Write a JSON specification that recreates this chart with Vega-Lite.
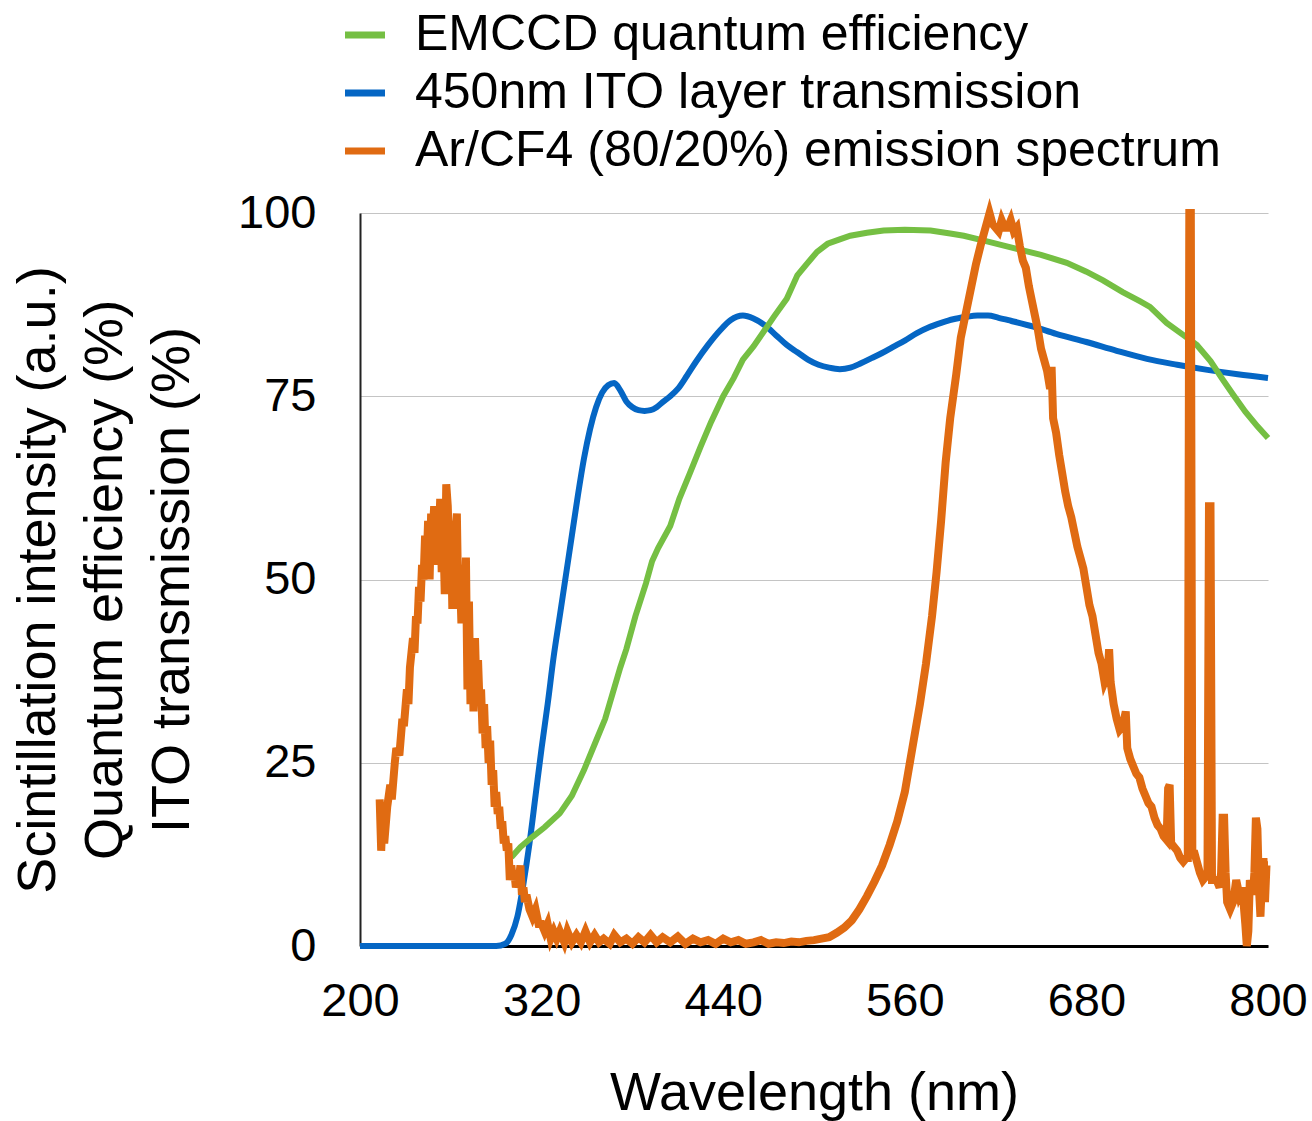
{
  "$schema": "https://vega.github.io/schema/vega-lite/v6.json",
  "width": 908,
  "height": 733,
  "autosize": {"type": "none"},
  "padding": {"left": 360, "top": 213, "right": 44, "bottom": 175},
  "background": "white",
  "config": {
    "font": "Liberation Sans",
    "view": {"stroke": null}
  },
  "datasets": {
    "ito": [
      {"wl":200,"v":0},{"wl":250,"v":0},{"wl":290,"v":0},{"wl":296,"v":0.3},{"wl":300,"v":1.5},{"wl":304,"v":4},{"wl":308,"v":8.5},{"wl":312,"v":14},{"wl":316,"v":20.5},{"wl":320,"v":27},{"wl":324,"v":33},{"wl":328,"v":39.5},{"wl":332,"v":45},{"wl":336,"v":50.5},{"wl":340,"v":56},{"wl":344,"v":61.5},{"wl":348,"v":66.5},{"wl":352,"v":70.5},{"wl":356,"v":73.5},{"wl":360,"v":75.5},{"wl":364,"v":76.5},{"wl":368,"v":76.8},{"wl":372,"v":75.8},{"wl":376,"v":74.3},{"wl":380,"v":73.5},{"wl":384,"v":73.1},{"wl":388,"v":73},{"wl":392,"v":73.1},{"wl":396,"v":73.5},{"wl":400,"v":74.2},{"wl":405,"v":75},{"wl":410,"v":76},{"wl":416,"v":77.8},{"wl":422,"v":79.7},{"wl":430,"v":82},{"wl":438,"v":84},{"wl":445,"v":85.4},{"wl":453,"v":86},{"wl":460,"v":85.6},{"wl":468,"v":84.6},{"wl":475,"v":83.3},{"wl":482,"v":82},{"wl":489,"v":81},{"wl":496,"v":80},{"wl":503,"v":79.3},{"wl":510,"v":78.9},{"wl":517,"v":78.7},{"wl":524,"v":78.9},{"wl":531,"v":79.5},{"wl":538,"v":80.2},{"wl":545,"v":80.9},{"wl":552,"v":81.7},{"wl":560,"v":82.6},{"wl":568,"v":83.6},{"wl":576,"v":84.4},{"wl":584,"v":85},{"wl":592,"v":85.5},{"wl":600,"v":85.8},{"wl":608,"v":86},{"wl":615,"v":86},{"wl":622,"v":85.7},{"wl":630,"v":85.3},{"wl":645,"v":84.5},{"wl":660,"v":83.5},{"wl":680,"v":82.4},{"wl":700,"v":81.2},{"wl":720,"v":80.1},{"wl":740,"v":79.3},{"wl":760,"v":78.6},{"wl":780,"v":78},{"wl":800,"v":77.5}
    ],
    "qe": [
      {"wl":300,"v":12.1},{"wl":306,"v":13.5},{"wl":314,"v":14.9},{"wl":322,"v":16.2},{"wl":332,"v":18.1},{"wl":340,"v":20.5},{"wl":348,"v":24},{"wl":356,"v":28},{"wl":362,"v":31},{"wl":367,"v":34.5},{"wl":372,"v":38},{"wl":376,"v":40.5},{"wl":382,"v":45},{"wl":389,"v":49.5},{"wl":393,"v":52.5},{"wl":397,"v":54.3},{"wl":405,"v":57.3},{"wl":411,"v":61},{"wl":418,"v":64.5},{"wl":425,"v":68.1},{"wl":432,"v":71.5},{"wl":440,"v":75},{"wl":447,"v":77.5},{"wl":453,"v":80},{"wl":460,"v":81.8},{"wl":466,"v":83.6},{"wl":474,"v":86},{"wl":482,"v":88.3},{"wl":489,"v":91.5},{"wl":495,"v":93},{"wl":502,"v":94.7},{"wl":509,"v":95.8},{"wl":517,"v":96.4},{"wl":524,"v":96.9},{"wl":535,"v":97.3},{"wl":546,"v":97.6},{"wl":560,"v":97.7},{"wl":577,"v":97.6},{"wl":590,"v":97.2},{"wl":599,"v":96.9},{"wl":615,"v":96.1},{"wl":634,"v":95.1},{"wl":650,"v":94.3},{"wl":667,"v":93.2},{"wl":680,"v":92},{"wl":691,"v":90.8},{"wl":704,"v":89.2},{"wl":715,"v":88},{"wl":722,"v":87.2},{"wl":733,"v":85},{"wl":743,"v":83.5},{"wl":753,"v":82},{"wl":762,"v":79.8},{"wl":770,"v":77.3},{"wl":777,"v":75.2},{"wl":785,"v":72.9},{"wl":793,"v":70.9},{"wl":800,"v":69.3}
    ],
    "ar": [
      {"wl":213,"v":20},{"wl":214,"v":13},{"wl":215,"v":18},{"wl":216,"v":14},{"wl":218,"v":19},{"wl":220,"v":22},{"wl":221,"v":20},{"wl":223,"v":25},{"wl":224,"v":27},{"wl":226,"v":26},{"wl":228,"v":31},{"wl":229,"v":30},{"wl":231,"v":35},{"wl":232,"v":33},{"wl":233,"v":38},{"wl":235,"v":42},{"wl":236,"v":40},{"wl":237,"v":45},{"wl":238,"v":44},{"wl":239,"v":49},{"wl":240,"v":47},{"wl":241,"v":52},{"wl":242,"v":50},{"wl":243,"v":56},{"wl":244,"v":52},{"wl":245,"v":58},{"wl":246,"v":50},{"wl":247,"v":59},{"wl":248,"v":56},{"wl":249,"v":60},{"wl":250,"v":52},{"wl":251,"v":60},{"wl":252,"v":55},{"wl":253,"v":61},{"wl":254,"v":51},{"wl":255,"v":57},{"wl":256,"v":48},{"wl":257,"v":63},{"wl":258,"v":60},{"wl":259,"v":53},{"wl":260,"v":58},{"wl":261,"v":46},{"wl":262,"v":58},{"wl":263,"v":56},{"wl":264,"v":59},{"wl":265,"v":46},{"wl":266,"v":51},{"wl":267,"v":44},{"wl":268,"v":52},{"wl":269,"v":45},{"wl":270,"v":53},{"wl":271,"v":35},{"wl":272,"v":47},{"wl":273,"v":33},{"wl":274,"v":42},{"wl":275,"v":32},{"wl":276,"v":42},{"wl":277,"v":34},{"wl":278,"v":39},{"wl":279,"v":33},{"wl":280,"v":35},{"wl":281,"v":29},{"wl":282,"v":33},{"wl":283,"v":27},{"wl":284,"v":30},{"wl":285,"v":25},{"wl":286,"v":28},{"wl":287,"v":22},{"wl":288,"v":24},{"wl":289,"v":19},{"wl":290,"v":21},{"wl":291,"v":18},{"wl":292,"v":19},{"wl":293,"v":16},{"wl":294,"v":17},{"wl":295,"v":14},{"wl":296,"v":15},{"wl":297,"v":13},{"wl":298,"v":14},{"wl":299,"v":9},{"wl":300,"v":11},{"wl":301,"v":9},{"wl":302,"v":10},{"wl":303,"v":8},{"wl":304,"v":9},{"wl":305,"v":9},{"wl":306,"v":11},{"wl":307,"v":7},{"wl":308,"v":8},{"wl":309,"v":6},{"wl":310,"v":7},{"wl":312,"v":5},{"wl":314,"v":4},{"wl":316,"v":5},{"wl":318,"v":3},{"wl":320,"v":3},{"wl":322,"v":2},{"wl":324,"v":3},{"wl":326,"v":1},{"wl":328,"v":2},{"wl":330,"v":1},{"wl":332,"v":2},{"wl":335,"v":0.5},{"wl":337,"v":2},{"wl":340,"v":0.5},{"wl":343,"v":1.5},{"wl":346,"v":0.5},{"wl":349,"v":2},{"wl":352,"v":0.5},{"wl":355,"v":1.5},{"wl":358,"v":0.5},{"wl":361,"v":1},{"wl":365,"v":0.3},{"wl":368,"v":1.5},{"wl":372,"v":0.5},{"wl":376,"v":1},{"wl":380,"v":0.3},{"wl":384,"v":1.2},{"wl":388,"v":0.5},{"wl":392,"v":1.5},{"wl":396,"v":0.5},{"wl":400,"v":1.2},{"wl":405,"v":0.5},{"wl":410,"v":1.3},{"wl":415,"v":0.3},{"wl":420,"v":1},{"wl":425,"v":0.5},{"wl":430,"v":0.8},{"wl":435,"v":0.3},{"wl":440,"v":1},{"wl":445,"v":0.5},{"wl":450,"v":0.8},{"wl":455,"v":0.3},{"wl":460,"v":0.5},{"wl":465,"v":0.8},{"wl":470,"v":0.3},{"wl":475,"v":0.5},{"wl":480,"v":0.4},{"wl":485,"v":0.6},{"wl":490,"v":0.5},{"wl":495,"v":0.7},{"wl":500,"v":0.8},{"wl":505,"v":1},{"wl":510,"v":1.2},{"wl":515,"v":1.8},{"wl":520,"v":2.5},{"wl":525,"v":3.5},{"wl":530,"v":5},{"wl":535,"v":6.8},{"wl":540,"v":8.8},{"wl":545,"v":11},{"wl":550,"v":13.8},{"wl":555,"v":17},{"wl":560,"v":21},{"wl":565,"v":27},{"wl":570,"v":33},{"wl":574,"v":38.5},{"wl":578,"v":45},{"wl":581,"v":51},{"wl":584,"v":58},{"wl":587,"v":66},{"wl":590,"v":72},{"wl":594,"v":78},{"wl":597,"v":83},{"wl":601,"v":87},{"wl":604,"v":90},{"wl":607,"v":93},{"wl":610,"v":95.5},{"wl":612,"v":97},{"wl":614,"v":98.5},{"wl":616,"v":100},{"wl":618,"v":98.5},{"wl":620,"v":98},{"wl":622,"v":97.5},{"wl":624,"v":99},{"wl":626,"v":98},{"wl":628,"v":98},{"wl":630,"v":99},{"wl":632,"v":97.5},{"wl":634,"v":98},{"wl":636,"v":95.5},{"wl":638,"v":93.5},{"wl":640,"v":92.5},{"wl":642,"v":90},{"wl":644,"v":88},{"wl":646,"v":86},{"wl":648,"v":84},{"wl":650,"v":81.5},{"wl":652,"v":80},{"wl":654,"v":78.5},{"wl":656,"v":76},{"wl":657,"v":79},{"wl":658,"v":72},{"wl":660,"v":70},{"wl":662,"v":67},{"wl":664,"v":64.5},{"wl":666,"v":62},{"wl":668,"v":60},{"wl":670,"v":58.5},{"wl":672,"v":56.5},{"wl":674,"v":54.5},{"wl":676,"v":53},{"wl":678,"v":51.5},{"wl":680,"v":49},{"wl":682,"v":46.5},{"wl":684,"v":45},{"wl":686,"v":42.5},{"wl":688,"v":40},{"wl":690,"v":38.5},{"wl":692,"v":36},{"wl":694,"v":37},{"wl":695,"v":40.5},{"wl":696,"v":36},{"wl":698,"v":33},{"wl":700,"v":31},{"wl":702,"v":29.5},{"wl":704,"v":30},{"wl":706,"v":32},{"wl":707,"v":27},{"wl":709,"v":25.5},{"wl":711,"v":24.5},{"wl":713,"v":23.5},{"wl":715,"v":23},{"wl":717,"v":21.5},{"wl":719,"v":20.5},{"wl":721,"v":19.5},{"wl":723,"v":19},{"wl":725,"v":17.5},{"wl":727,"v":16.5},{"wl":729,"v":16},{"wl":731,"v":15},{"wl":733,"v":14.5},{"wl":734,"v":21.5},{"wl":735,"v":22},{"wl":736,"v":14},{"wl":738,"v":13.5},{"wl":740,"v":13},{"wl":742,"v":12},{"wl":744,"v":11.5},{"wl":746,"v":12},{"wl":747,"v":12},{"wl":748,"v":100},{"wl":749,"v":100},{"wl":750,"v":12},{"wl":751,"v":13},{"wl":753,"v":11.5},{"wl":755,"v":10},{"wl":757,"v":9},{"wl":759,"v":9.5},{"wl":760,"v":9},{"wl":761,"v":60},{"wl":762,"v":60},{"wl":763,"v":9},{"wl":764,"v":9},{"wl":766,"v":9},{"wl":768,"v":8},{"wl":769,"v":10},{"wl":770,"v":17.5},{"wl":771,"v":17.5},{"wl":772,"v":10},{"wl":773,"v":6},{"wl":775,"v":5},{"wl":777,"v":6},{"wl":779,"v":9},{"wl":781,"v":7},{"wl":783,"v":8},{"wl":785,"v":3},{"wl":786,"v":0},{"wl":787,"v":2},{"wl":788,"v":9},{"wl":790,"v":7},{"wl":791,"v":10},{"wl":792,"v":17.5},{"wl":793,"v":16},{"wl":794,"v":8},{"wl":795,"v":4},{"wl":796,"v":9},{"wl":797,"v":12},{"wl":798,"v":6},{"wl":799,"v":11},{"wl":800,"v":11}
    ]
  },
  "encoding": {
    "x": {
      "field": "wl", "type": "quantitative",
      "scale": {"domain": [200, 800], "nice": false, "zero": false},
      "axis": {
        "values": [200, 320, 440, 560, 680, 800],
        "title": "Wavelength (nm)",
        "titleFontSize": 54, "titleFontWeight": "normal", "titleColor": "black", "titlePadding": 42,
        "labelFontSize": 47, "labelColor": "black", "labelPadding": 32, "labelFlush": false,
        "ticks": false, "grid": false,
        "domainColor": "black", "domainWidth": 3
      }
    },
    "y": {
      "field": "v", "type": "quantitative",
      "scale": {"domain": [0, 100], "nice": false},
      "axis": {
        "values": [0, 25, 50, 75, 100],
        "title": ["Scintillation intensity (a.u.)", "Quantum efficiency (%)", "ITO transmission (%)"],
        "titleFontSize": 54, "titleFontWeight": "normal", "titleColor": "black", "titleLineHeight": 67, "titlePadding": 38,
        "labelFontSize": 47, "labelColor": "black", "labelPadding": 44,
        "ticks": false, "grid": true, "gridColor": "#c4c4c4", "gridWidth": 1.2,
        "domainColor": "#222222", "domainWidth": 2
      }
    }
  },
  "layer": [
    {
      "data": {"name": "ito"},
      "mark": {"type": "line", "strokeWidth": 6, "interpolate": "monotone"},
      "encoding": {
        "color": {
          "datum": "450nm ITO layer transmission",
          "scale": {"domain": ["EMCCD quantum efficiency", "450nm ITO layer transmission", "Ar/CF4 (80/20%) emission spectrum"], "range": ["#75bf43", "#0566c4", "#e06b12"]},
          "legend": {
            "title": null, "orient": "none", "legendX": -20, "legendY": -203,
            "symbolType": "stroke", "symbolSize": 1600, "symbolStrokeWidth": 7,
            "labelFontSize": 50, "labelColor": "black", "labelLimit": 1200,
            "labelOffset": 25, "rowPadding": 8, "padding": 0
          }
        }
      }
    },
    {
      "data": {"name": "qe"},
      "mark": {"type": "line", "strokeWidth": 6},
      "encoding": {"color": {"datum": "EMCCD quantum efficiency"}}
    },
    {
      "data": {"name": "ar"},
      "mark": {"type": "line", "strokeWidth": 8},
      "encoding": {"color": {"datum": "Ar/CF4 (80/20%) emission spectrum"}}
    }
  ]
}
